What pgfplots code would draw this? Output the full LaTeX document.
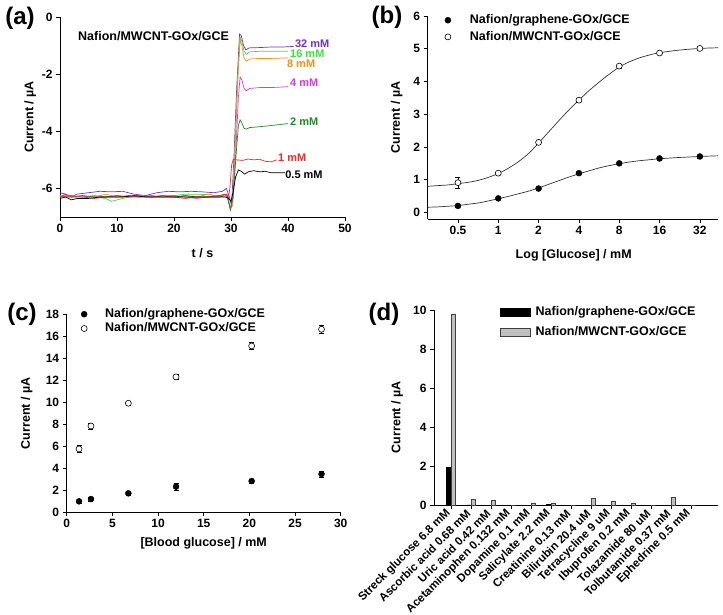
\documentclass[border=0pt]{standalone}
\usepackage{pgfplots}
\pgfplotsset{compat=1.18}
\usepackage{fontspec}
\setmainfont{Liberation Sans}

\definecolor{c32}{RGB}{110,50,200}
\definecolor{c16}{RGB}{60,225,60}
\definecolor{c8}{RGB}{255,140,30}
\definecolor{c4}{RGB}{230,50,230}
\definecolor{c2}{RGB}{30,140,30}
\definecolor{c1}{RGB}{240,40,40}
\definecolor{barGray}{RGB}{192,192,192}

\pgfplotsset{
  panel/.style={
    scale only axis,
    axis lines*=left,
    axis line style={black, line width=0.8pt},
    tick align=outside,
    major tick length=4pt,
    tick style={black, line width=0.7pt},
    /pgf/number format/assume math mode=true,
    ticklabel style={font=\fontsize{12}{14}\selectfont\bfseries},
    label style={font=\fontsize{12.5}{15}\selectfont\bfseries},
    clip=false,
  },
  dotleg/.style={
    legend image code/.code={\draw[##1] plot coordinates {(0pt,0pt)};},
    legend style={draw=none, fill=none, inner sep=0pt, anchor=north west,
      font=\fontsize{12.5}{15}\selectfont\bfseries,
      nodes={inner xsep=2pt, text height=9pt, text depth=2.5pt},
      cells={anchor=west}},
  },
  gmark/.style={only marks, mark=*, mark size=3pt, mark options={fill=black, draw=black},
    error bars/.cd, y dir=both, y explicit,
    error bar style={black, line width=0.5pt},
    error mark options={rotate=90, mark size=2.5pt, black}},
  mmark/.style={only marks, mark=*, mark size=3pt, mark options={fill=white, draw=black, line width=0.6pt},
    error bars/.cd, y dir=both, y explicit,
    error bar style={black, line width=0.5pt},
    error mark options={rotate=90, mark size=2.5pt, black}},
}

\begin{document}
\begin{tikzpicture}
\useasboundingbox (0,0) rectangle (723pt,-614pt);

% ---------------- (a) ----------------
\begin{axis}[panel,
  at={(60pt,-217pt)}, anchor=south west,
  width=285pt, height=200pt,
  xmin=0, xmax=50, ymin=-7, ymax=0,
  xtick={0,10,20,30,40,50},
  ytick={0,-2,-4,-6}, yticklabels={0,-2,-4,-6},
  xlabel={t / s}, ylabel={Current / µA},
  xlabel style={at={(axis description cs:0.5,-0.18)}, anchor=center},
  ylabel style={at={(axis description cs:-0.105,0.5)}, anchor=center},
  every axis plot/.append style={line width=0.7pt, no marks},
]
\addplot[c32] coordinates {(0,-6.15)(1,-6.2)(2,-6.3)(3,-6.2)(5,-6.15)(7,-6.1)(9,-6.12)(11,-6.1)(13,-6.2)(15,-6.25)(17,-6.15)(19,-6.1)(21,-6.12)(23,-6.1)(25,-6.12)(27,-6.15)(28.5,-6.1)(29.2,-6.0)(29.7,-6.3)(30.1,-6.6)(30.5,-5.0)(31,-2.5)(31.5,-0.6)(31.8,-0.65)(32.2,-1.0)(32.6,-1.15)(33.2,-1.08)(35,-1.07)(37,-1.05)(39,-1.05)(41,-1.03)};
\addplot[c16] coordinates {(0,-6.3)(1,-6.25)(2,-6.25)(4,-6.3)(6,-6.3)(8,-6.35)(9,-6.45)(10,-6.4)(12,-6.3)(14,-6.25)(16,-6.3)(18,-6.25)(20,-6.25)(22,-6.2)(24,-6.2)(26,-6.22)(28,-6.25)(29.3,-6.2)(29.9,-6.75)(30.3,-6.5)(30.8,-4)(31.2,-2)(31.6,-0.7)(31.9,-0.85)(32.3,-1.2)(32.7,-1.3)(33.3,-1.22)(35,-1.2)(37,-1.2)(40,-1.2)};
\addplot[c8] coordinates {(0,-6.25)(2,-6.3)(4,-6.25)(6,-6.3)(8,-6.2)(10,-6.3)(12,-6.3)(14,-6.25)(16,-6.3)(18,-6.25)(20,-6.3)(22,-6.25)(24,-6.3)(26,-6.2)(28,-6.3)(29.3,-6.2)(29.9,-6.7)(30.3,-6.6)(30.8,-4.2)(31.2,-2.2)(31.6,-0.8)(31.9,-1.0)(32.3,-1.45)(32.7,-1.55)(33.3,-1.47)(35,-1.45)(37,-1.45)(40,-1.43)};
\addplot[c4] coordinates {(0,-6.3)(2,-6.25)(4,-6.3)(6,-6.25)(8,-6.3)(10,-6.25)(12,-6.3)(14,-6.25)(16,-6.3)(18,-6.3)(20,-6.25)(22,-6.3)(24,-6.35)(26,-6.3)(28,-6.25)(29.3,-6.2)(29.9,-6.7)(30.4,-6.3)(30.9,-4.5)(31.3,-2.8)(31.6,-2.1)(31.9,-2.2)(32.3,-2.5)(32.7,-2.58)(33.3,-2.5)(35,-2.47)(37,-2.47)(40,-2.44)};
\addplot[c2] coordinates {(0,-6.3)(2,-6.3)(4,-6.25)(6,-6.3)(8,-6.3)(10,-6.25)(12,-6.3)(14,-6.3)(16,-6.25)(18,-6.3)(20,-6.3)(22,-6.25)(24,-6.3)(26,-6.3)(28,-6.3)(29.3,-6.25)(29.9,-6.75)(30.4,-6.2)(30.9,-4.8)(31.3,-3.8)(31.6,-3.6)(31.9,-3.7)(32.3,-3.9)(32.7,-3.92)(33.3,-3.87)(35,-3.84)(37,-3.8)(40,-3.73)};
\addplot[c1] coordinates {(0,-6.3)(1,-6.2)(2,-6.3)(4,-6.3)(6,-6.35)(8,-6.3)(10,-6.3)(12,-6.25)(14,-6.3)(16,-6.3)(18,-6.25)(20,-6.3)(22,-6.35)(24,-6.3)(26,-6.3)(28,-6.25)(29,-6.2)(29.5,-6.4)(29.8,-6.0)(30.1,-5.2)(30.4,-4.97)(31,-5.0)(32,-5.02)(33,-4.97)(34,-5.0)(35,-4.98)(36,-5.05)(37,-5.07)(38,-5.0)};
\addplot[black] coordinates {(0,-6.35)(1,-6.3)(2,-6.4)(3,-6.35)(5,-6.35)(7,-6.3)(9,-6.3)(11,-6.3)(13,-6.25)(15,-6.3)(17,-6.3)(19,-6.3)(21,-6.3)(23,-6.3)(25,-6.3)(27,-6.3)(29,-6.3)(29.6,-6.35)(30,-6.45)(30.4,-6.1)(30.8,-5.6)(31.3,-5.35)(31.8,-5.4)(32.4,-5.5)(33,-5.42)(34,-5.38)(35,-5.42)(36,-5.4)(37,-5.45)(38,-5.45)(39.5,-5.45)};
\begin{scope}[every node/.style={anchor=west, inner sep=0pt, font=\fontsize{11}{13}\selectfont\bfseries}]
\node[text=c32] at (axis cs:41.2,-0.935) {32 mM};
\node[text=c16] at (axis cs:40.35,-1.295) {16 mM};
\node[text=c8]  at (axis cs:39.8,-1.645) {8 mM};
\node[text=c4]  at (axis cs:40.35,-2.31) {4 mM};
\node[text=c2]  at (axis cs:40.35,-3.675) {2 mM};
\node[text=c1]  at (axis cs:38.25,-4.935) {1 mM};
\node[text=black] at (axis cs:39.5,-5.53) {0.5 mM};
\end{scope}
\node[anchor=west, inner sep=0pt, font=\fontsize{12.5}{15}\selectfont\bfseries] at (axis cs:3.16,-0.665) {Nafion/MWCNT-GOx/GCE};
\end{axis}

% ---------------- (b) ----------------
\begin{axis}[panel, dotleg,
  at={(427.7pt,-219pt)}, anchor=south west,
  width=290.3pt, height=203pt,
  xmode=log, log basis x=2,
  xmin=0.2973, xmax=43.71, ymin=-0.2, ymax=6,
  xtick={0.5,1,2,4,8,16,32}, xticklabels={0.5,1,2,4,8,16,32},
  minor xtick={},
  ytick={0,1,2,3,4,5,6},
  xlabel={Log [Glucose] / mM}, ylabel={Current / µA},
  xlabel style={at={(axis description cs:0.503,-0.177)}, anchor=center},
  ylabel style={at={(axis description cs:-0.107,0.5)}, anchor=center},
  legend style={at={(axis description cs:0.0586,1.0214)}, row sep=0pt,
    nodes={inner ysep=2.6pt},
    /tikz/every odd column/.append style={column sep=17pt}},
]
% fitted curves
\addplot[forget plot, black!80, line width=0.7pt, smooth] coordinates {
(0.2973,0.80)(0.3536,0.82)(0.4204,0.84)(0.5,0.88)(0.5946,0.92)(0.7071,0.98)(0.8409,1.07)(1,1.19)(1.1892,1.35)(1.4142,1.55)(1.6818,1.80)(2,2.12)(2.3784,2.46)(2.8284,2.80)(3.3636,3.13)(4,3.43)(4.7568,3.72)(5.6569,3.98)(6.7272,4.22)(8,4.44)(9.5137,4.60)(11.3137,4.72)(13.4543,4.81)(16,4.88)(22.627,4.96)(32,5.01)(43.71,5.03)};
\addplot[forget plot, black!80, line width=0.7pt, smooth] coordinates {
(0.2973,0.16)(0.3536,0.17)(0.4204,0.19)(0.5,0.21)(0.5946,0.25)(0.7071,0.29)(0.8409,0.35)(1,0.42)(1.1892,0.49)(1.4142,0.57)(1.6818,0.65)(2,0.75)(2.3784,0.86)(2.8284,0.97)(3.3636,1.08)(4,1.18)(4.7568,1.27)(5.6569,1.36)(6.7272,1.43)(8,1.49)(9.5137,1.54)(11.3137,1.58)(13.4543,1.61)(16,1.64)(22.627,1.68)(32,1.71)(43.71,1.73)};
\addplot[gmark] coordinates {(0.5,0.20) +- (0,0.03) (1,0.43) +- (0,0.03) (2,0.73) +- (0,0.04) (4,1.20) +- (0,0.04) (8,1.50) +- (0,0.04) (16,1.65) +- (0,0.04) (32,1.71) +- (0,0.04)};
\addplot[mmark] coordinates {(0.5,0.91) +- (0,0.17) (1,1.20) +- (0,0.04) (2,2.14) +- (0,0.07) (4,3.43) +- (0,0.06) (8,4.47) +- (0,0.05) (16,4.87) +- (0,0.04) (32,5.01) +- (0,0.04)};
\legend{Nafion/graphene-GOx/GCE, Nafion/MWCNT-GOx/GCE}
\end{axis}

% ---------------- (c) ----------------
\begin{axis}[panel, dotleg,
  at={(66.7pt,-512pt)}, anchor=south west,
  width=274pt, height=197.7pt,
  xmin=0, xmax=30, ymin=0, ymax=18,
  xtick={0,5,10,15,20,25,30},
  ytick={0,2,4,6,8,10,12,14,16,18},
  xlabel={[Blood glucose] / mM}, ylabel={Current / µA},
  xlabel style={at={(axis description cs:0.5,-0.157)}, anchor=center},
  ylabel style={at={(axis description cs:-0.146,0.5)}, anchor=center},
  legend style={at={(axis description cs:0.052,1.0377)}, row sep=0pt,
    nodes={inner ysep=1.4pt},
    /tikz/every odd column/.append style={column sep=16pt}},
]
\addplot[gmark] coordinates {(1.35,0.97) +- (0,0.15) (2.66,1.18) +- (0,0.2) (6.75,1.70) +- (0,0.2) (11.97,2.31) +- (0,0.35) (20.25,2.82) +- (0,0.2) (27.9,3.46) +- (0,0.3)};
\addplot[mmark] coordinates {(1.35,5.74) +- (0,0.3) (2.66,7.83) +- (0,0.25) (6.75,9.90) +- (0,0.22) (11.97,12.30) +- (0,0.25) (20.25,15.12) +- (0,0.3) (27.9,16.64) +- (0,0.35)};
\legend{Nafion/graphene-GOx/GCE, Nafion/MWCNT-GOx/GCE}
\end{axis}

% ---------------- (d) ----------------
\begin{axis}[panel,
  at={(434pt,-505.3pt)}, anchor=south west,
  width=284pt, height=195.3pt,
  ybar=0pt, bar width=4.3pt,
  xmin=-0.85, xmax=13.35, ymin=0, ymax=10,
  xtick={0,1,2,3,4,5,6,7,8,9,10,11,12},
  xticklabels={Streck glucose 6.8 mM, Ascorbic acid 0.68 mM, Uric acid 0.42 mM, Acetaminophen 0.132 mM, Dopamine 0.1 mM, Salicylate 2.2 mM, Creatinine 0.13 mM, Bilirubin 20.4 uM, Tetracycline 9 uM, Ibuprofen 0.2 mM, Tolazamide 80 uM, Tolbutamide 0.37 mM, Ephedrine 0.5 mM},
  xticklabel style={rotate=45, anchor=east, font=\fontsize{11.5}{13}\selectfont\bfseries},
  ytick={0,2,4,6,8,10},
  ylabel={Current / µA},
  ylabel style={at={(axis description cs:-0.13,0.45)}, anchor=center},
  legend image code/.code={\draw[#1] (0pt,-4pt) rectangle (30pt,4pt);},
  legend style={draw=none, fill=none, inner sep=0pt, anchor=north west,
    at={(axis description cs:0.2324,1.0425)}, row sep=0pt,
    font=\fontsize{12.5}{15}\selectfont\bfseries,
    nodes={inner xsep=2pt, inner ysep=4.25pt, text height=9pt, text depth=2.5pt},
    cells={anchor=west},
    /tikz/every odd column/.append style={column sep=3pt}},
]
\addplot[fill=black, draw=black, line width=0.5pt] coordinates {(0,1.93)(1,0.02)(2,0)(3,0)(4,0)(5,0.05)(6,0)(7,0)(8,0)(9,0)(10,0)(11,0)(12,0)};
\addplot[fill=barGray, draw=black!75, line width=0.5pt] coordinates {(0,9.8)(1,0.32)(2,0.25)(3,0)(4,0.13)(5,0.12)(6,0)(7,0.37)(8,0.22)(9,0.13)(10,0)(11,0.42)(12,0)};
\legend{Nafion/graphene-GOx/GCE, Nafion/MWCNT-GOx/GCE}
\end{axis}

% panel letters
\begin{scope}[every node/.style={font=\fontsize{24}{28}\selectfont\bfseries, inner sep=0pt}]
\node at (20pt,-18pt) {(a)};
\node at (387pt,-17pt) {(b)};
\node at (22pt,-314pt) {(c)};
\node at (384pt,-314pt) {(d)};
\end{scope}
\end{tikzpicture}
\end{document}
